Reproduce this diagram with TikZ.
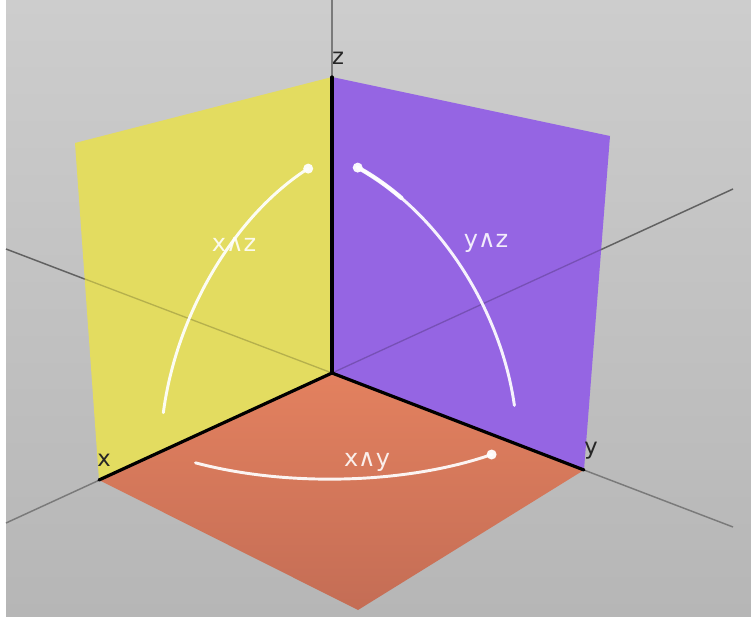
\documentclass[tikz,border=0pt]{standalone}
\usepackage{fontspec}
\setmainfont{DejaVu Sans}
\definecolor{bgtop}{HTML}{CDCDCD}
\definecolor{bgbot}{HTML}{B6B6B6}
\definecolor{yplane}{HTML}{E3DC60}
\definecolor{pplane}{HTML}{9565E3}
\definecolor{ftop}{HTML}{E3815F}
\definecolor{fbot}{HTML}{C46D55}
\definecolor{guide}{HTML}{7A7A7A}
\tikzset{
  guideline/.style={draw=guide, line width=1.1pt},
  guidefaint/.style={draw=black, line width=1pt, opacity=0.2},
  axisline/.style={draw=black, line width=2.4pt, line cap=round},
  arcline/.style={draw=white, line width=2.2pt, opacity=0.92, line cap=round},
  enddot/.style={fill=white, opacity=0.95},
  lab/.style={text=white, opacity=0.88, font=\fontsize{18}{18}\selectfont, inner sep=0pt},
  axlab/.style={text=black!85, font=\fontsize{17}{17}\selectfont, inner sep=0pt}
}
\begin{document}
\begin{tikzpicture}[x=0.75pt,y=-0.75pt]
\useasboundingbox (0,0) rectangle (751,617);
% background
\shade[top color=bgtop, bottom color=bgbot] (0,0) rectangle (751,617);
\fill[white] (0,0) rectangle (6,617);
% key points
\coordinate (O) at (332,373);
\coordinate (Z) at (332,77);
\coordinate (X) at (99,480);
\coordinate (Y) at (584,470);
\coordinate (YW) at (75,143);
\coordinate (PW) at (610,136);
\coordinate (F) at (358,610);
\coordinate (Ztop) at (332,0);
\coordinate (G1a) at (6,249);
\coordinate (G1b) at (733,527);
\coordinate (G2a) at (6,523);
\coordinate (G2b) at (733,189);
% guide lines (behind)
\draw[guideline] (G1a) -- (G1b);
\draw[guideline] (G2a) -- (G2b);
\draw[guideline] (Ztop) -- (Z);
% planes
\fill[yplane] (O) -- (Z) -- (YW) -- (X) -- cycle;
\fill[pplane] (O) -- (Z) -- (PW) -- (Y) -- cycle;
\shade[top color=ftop, bottom color=fbot] (O) -- (X) -- (F) -- (Y) -- cycle;
% guide lines seen through the walls
\draw[guidefaint] (G1a) -- (O);
\draw[guidefaint] (O) -- (G2b);
% axes
\draw[axisline] (O) -- (Z);
\draw[axisline] (O) -- (X);
\draw[axisline] (O) -- (Y);
% arcs
\draw[arcline] plot[domain=10:82, samples=50, smooth]
  ({332+0.735*(-233*cos(\x))},{373+0.735*(107*cos(\x)-296*sin(\x))});
\fill[enddot] (308.2,168.6) circle (5);
\draw[arcline] plot[domain=10:82, samples=50, smooth]
  ({332+0.735*(252*cos(\x))},{373+0.735*(97*cos(\x)-296*sin(\x))});
\draw[arcline, line width=3.2pt] plot[domain=68:82, samples=20, smooth]
  ({332+0.735*(252*cos(\x))},{373+0.735*(97*cos(\x)-296*sin(\x))});
\fill[enddot] (357.7,167.6) circle (5);
\draw[arcline] plot[domain=10:82, samples=50, smooth]
  ({332+0.735*(-233*cos(\x)+252*sin(\x))},{373+0.735*(107*cos(\x)+97*sin(\x))});
\fill[enddot] (491.6,454.5) circle (5);
% labels
\node[lab] (lxz) at (234,245) {x∧z};
\node[lab] (lyz) at (486,243) {y∧z};
\node[lab] (lxy) at (367,462) {x∧y};
\node[axlab] (lz) at (338,58) {z};
\node[axlab] (lx) at (104,460) {x};
\node[axlab] (ly) at (591,451) {y};
\end{tikzpicture}
\end{document}
